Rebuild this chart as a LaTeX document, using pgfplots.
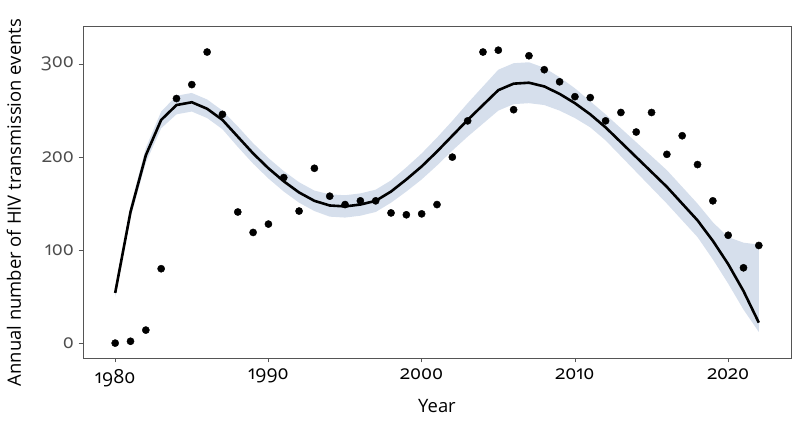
\documentclass[border=0pt]{standalone}
\usepackage{pgfplots}
\pgfplotsset{compat=1.18}
\usepackage{pgfplotstable}
\usepgfplotslibrary{fillbetween}
\usetikzlibrary{calc}
\usepackage{fontspec}
\setmainfont{Open Sans}
\newfontfamily\tickfont{Open Sans}[Numbers=OldStyle]
\definecolor{ribbon}{RGB}{214,223,236}
\definecolor{frame}{RGB}{85,85,85}
\definecolor{ticktext}{RGB}{77,77,77}

\pgfplotstableread{
year fit lo hi
1980 54 50 58
1981 141 135 147
1982 202 194 210
1983 240 231 249
1984 256 246 266
1985 259 249 269
1986 252 242 262
1987 240 230 250
1988 222 211 233
1989 204 193 215
1990 188 177 199
1991 174 163 185
1992 162 151 173
1993 153 142 164
1994 148 136 160
1995 147 135 159
1996 149 137 161
1997 153 141 165
1998 163 151 175
1999 176 163 189
2000 190 176 204
2001 206 191 221
2002 223 207 239
2003 240 222 258
2004 256 236 276
2005 272 250 294
2006 279 257 301
2007 280 258 302
2008 276 256 296
2009 268 250 286
2010 258 242 274
2011 246 232 260
2012 232 218 246
2013 216 201 231
2014 200 184 216
2015 184 167 201
2016 168 150 186
2017 150 132 168
2018 132 114 150
2019 110 90 130
2020 85 64 114
2021 56 36 108
2022 22 12 106
}\fitdata

\pgfplotstableread{
year n
1980 0
1981 2
1982 14
1983 80
1984 263
1985 278
1986 313
1987 246
1988 141
1989 119
1990 128
1991 178
1992 142
1993 188
1994 158
1995 149
1996 153
1997 153
1998 140
1999 138
2000 139
2001 149
2002 200
2003 239
2004 313
2005 315
2006 251
2007 309
2008 294
2009 281
2010 265
2011 264
2012 239
2013 248
2014 227
2015 248
2016 203
2017 223
2018 192
2019 153
2020 116
2021 81
2022 105
}\pointdata

\begin{document}
\begin{tikzpicture}
\begin{axis}[
  name=ax,
  scale only axis,
  width=708bp, height=332bp,
  xmin=1977.9, xmax=2024.1,
  ymin=-16, ymax=341,
  xtick={1980,1990,2000,2010,2020},
  ytick={0,100,200,300},
  axis line style={frame, line width=0.8pt},
  tick style={frame, line width=0.8pt},
  tick align=outside,
  major tick length=4.5bp,
  xtick pos=bottom, ytick pos=left,
  /pgf/number format/1000 sep={},
  /pgf/number format/assume math mode=true,
  xticklabel style={font=\tickfont\fontsize{19.5}{22}\selectfont, text=black, yshift=-3bp},
  yticklabel style={font=\tickfont\fontsize{19.5}{22}\selectfont, text=ticktext, xshift=-1bp},
  xlabel={Year},
  ylabel={Annual number of HIV transmission events},
  xlabel style={font=\fontsize{18.5}{21}\selectfont, at={(axis description cs:0.5,-0.1446)}, anchor=center},
  ylabel style={font=\fontsize{18.5}{21}\selectfont, at={(axis description cs:-0.0975,0.468)}, anchor=center},
]
\addplot[name path=hi, draw=none, forget plot] table[x=year,y=hi]{\fitdata};
\addplot[name path=lo, draw=none, forget plot] table[x=year,y=lo]{\fitdata};
\addplot[fill=ribbon, draw=none] fill between[of=hi and lo];
\addplot[black, line width=2.6bp] table[x=year,y=fit]{\fitdata};
\addplot[only marks, mark=*, mark size=3.6bp, black] table[x=year,y=n]{\pointdata};
\end{axis}
\pgfresetboundingbox
\path ($(ax.south west)+(-83bp,-77bp)$) rectangle ($(ax.north east)+(9bp,26bp)$);
\end{tikzpicture}
\end{document}
